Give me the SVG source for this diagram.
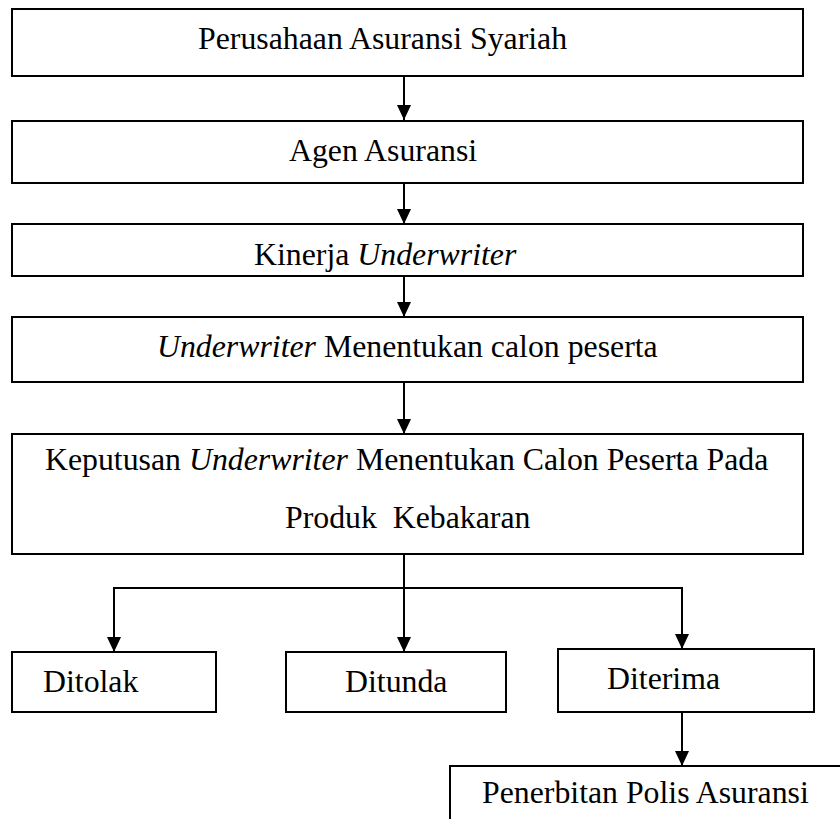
<svg xmlns="http://www.w3.org/2000/svg" width="840" height="819" viewBox="0 0 840 819">
<style>
.box{fill:#fff;stroke:#000;stroke-width:2}
.t{font-family:"Liberation Serif","Times New Roman",serif;font-size:31.8px;fill:#000}
.i{font-style:italic}
.c{fill:none;stroke:#000;stroke-width:2}
</style>
<defs>
<marker id="ah" viewBox="0 0 15 14" refX="15" refY="7" markerWidth="15" markerHeight="14" markerUnits="userSpaceOnUse" orient="auto">
<path d="M0,0 L15,7 L0,14 Z" fill="#000"/>
</marker>
<clipPath id="clip3"><rect x="12" y="224" width="791" height="48"/></clipPath>
</defs>
<rect width="840" height="819" fill="#fff"/>
<g id="n1">
<rect class="box" x="12" y="9" width="791" height="67"/>
<text class="t" x="198" y="49">Perusahaan Asuransi Syariah</text>
</g>
<g id="n2">
<rect class="box" x="12" y="121" width="791" height="62"/>
<text class="t" x="289" y="161">Agen Asuransi</text>
</g>
<g id="n3">
<rect class="box" x="12" y="224" width="791" height="52"/>
<text class="t" x="254" y="265" clip-path="url(#clip3)">Kinerja <tspan class="i">Underwriter</tspan></text>
</g>
<g id="n4">
<rect class="box" x="12" y="317" width="791" height="65"/>
<text class="t" x="157" y="357"><tspan class="i">Underwriter</tspan> Menentukan calon peserta</text>
</g>
<g id="n5">
<rect class="box" x="12" y="434" width="791" height="120"/>
<text class="t" x="45" y="470">Keputusan <tspan class="i">Underwriter</tspan> Menentukan Calon Peserta Pada</text>
<text class="t" x="285" y="528" xml:space="preserve">Produk  Kebakaran</text>
</g>
<g id="n6">
<rect class="box" x="12" y="652" width="204" height="60"/>
<text class="t" x="43" y="692">Ditolak</text>
</g>
<g id="n7">
<rect class="box" x="286" y="652" width="220" height="60"/>
<text class="t" x="345" y="692">Ditunda</text>
</g>
<g id="n8">
<rect class="box" x="558" y="649" width="256" height="63"/>
<text class="t" x="607" y="689">Diterima</text>
</g>
<g id="n9">
<rect class="box" x="450" y="766" width="400" height="80"/>
<text class="t" x="482" y="803">Penerbitan Polis Asuransi</text>
</g>
<g id="connectors">
<path class="c" d="M404,76 V120" marker-end="url(#ah)"/>
<path class="c" d="M404,183 V224" marker-end="url(#ah)"/>
<path class="c" d="M404,276 V317" marker-end="url(#ah)"/>
<path class="c" d="M404,382 V434" marker-end="url(#ah)"/>
<path class="c" d="M404,554 V652" marker-end="url(#ah)"/>
<path class="c" d="M404,588 H114 V652" marker-end="url(#ah)"/>
<path class="c" d="M404,588 H682 V649" marker-end="url(#ah)"/>
<path class="c" d="M682,712 V766" marker-end="url(#ah)"/>
</g>
</svg>
